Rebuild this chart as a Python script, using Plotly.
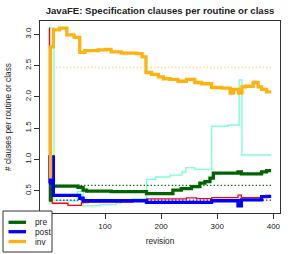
import plotly.graph_objects as go

# ---- data ----
pre_rev = [0, 3, 52, 61, 67, 111, 174, 221, 236, 254, 269, 278, 287, 293, 337, 343, 379, 388, 396]
pre_val = [0.35, 0.575, 0.555, 0.51, 0.495, 0.485, 0.455, 0.51, 0.535, 0.565, 0.62, 0.645, 0.70, 0.78, 0.80, 0.77, 0.80, 0.82, 0.82]

post_rev = [0, 2, 8, 55, 61, 174, 290, 337, 343, 379, 388, 396]
post_val = [0.62, 1.04, 0.425, 0.38, 0.34, 0.315, 0.34, 0.26, 0.355, 0.405, 0.41, 0.41]

inv_rev = [0, 3, 8, 19, 32, 45, 55, 64, 88, 102, 111, 129, 156, 166, 173, 183, 195, 204, 216, 230,
           245, 260, 272, 290, 308, 323, 329, 338, 344, 350, 364, 373, 379, 388, 396]
inv_val = [0.72, 2.80, 3.07, 3.10, 2.99, 2.95, 2.71, 2.74, 2.75, 2.76, 2.72, 2.70, 2.69, 2.64, 2.39, 2.36,
           2.32, 2.29, 2.28, 2.25, 2.28, 2.23, 2.21, 2.15, 2.14, 2.06, 2.12, 2.06, 2.16, 2.17, 2.23,
           2.16, 2.12, 2.08, 2.08]

red_rev = [0, 1, 4, 6, 34, 58, 70, 150, 174, 245, 263, 290, 337, 343, 379, 396]
red_val = [3.10, 0.35, 0.92, 0.30, 0.265, 0.31, 0.32, 0.34, 0.37, 0.385, 0.375, 0.39, 0.43, 0.39, 0.40, 0.40]

aqua_rev = [0, 2, 9, 51, 61, 91, 120, 129, 150, 174, 190, 216, 237, 244, 260, 290, 320, 339, 344, 396]
aqua_val = [0.30, 3.10, 0.34, 0.485, 0.26, 0.28, 0.30, 0.35, 0.37, 0.68, 0.72, 0.75, 0.80, 0.87, 0.84,
            1.53, 1.55, 2.27, 1.07, 1.07]

mean_rev = [13, 396]
pre_mean = 0.585
post_mean = 0.35
inv_mean = 2.47

legend_names = ["pre", "post", "inv"]
x_ticks = [100, 200, 300, 400]
y_ticks = [0.5, 1.0, 1.5, 2.0, 2.5, 3.0]

GREEN = "#006400"
BLUE = "#0000FF"
ORANGE = "#FFB20F"
RED = "#FF0000"
AQUA = "#7FFFD4"

fig = go.Figure()

# thin series
fig.add_trace(go.Scatter(x=aqua_rev, y=aqua_val, mode="lines", showlegend=False,
                         line=dict(color=AQUA, width=1.4, shape="hv")))
fig.add_trace(go.Scatter(x=red_rev, y=red_val, mode="lines", showlegend=False,
                         line=dict(color=RED, width=1.3, shape="hv")))

# thick series
for rev, val, col in [(pre_rev, pre_val, GREEN), (post_rev, post_val, BLUE), (inv_rev, inv_val, ORANGE)]:
    fig.add_trace(go.Scatter(x=rev, y=val, mode="lines", showlegend=False,
                             line=dict(color=col, width=3.3, shape="hv")))

# dotted mean lines
for m, col in [(pre_mean, GREEN), (post_mean, BLUE), (inv_mean, "#FFD280")]:
    fig.add_trace(go.Scatter(x=mean_rev, y=[m, m], mode="lines", showlegend=False,
                             line=dict(color=col, width=1.3, dash="1.3px,2.2px")))

# custom legend box (paper coordinates, plot area 40..280 x, 21..213 y)
def px2x(px):
    return (px - 40) / 240.0

def py2y(py):
    return (213 - py) / 192.0

fig.add_shape(type="rect", xref="paper", yref="paper", layer="above",
              x0=px2x(3), x1=px2x(52), y0=py2y(211), y1=py2y(252),
              fillcolor="white", line=dict(color="#333333", width=1))
legend_cols = [GREEN, BLUE, ORANGE]
legend_py = [222.3, 231.7, 241.5]
for name, col, ly in zip(legend_names, legend_cols, legend_py):
    fig.add_shape(type="line", xref="paper", yref="paper", layer="above",
                  x0=px2x(8.5), x1=px2x(26), y0=py2y(ly), y1=py2y(ly),
                  line=dict(color=col, width=3.3))
    fig.add_annotation(x=px2x(32.5), y=py2y(ly), xref="paper", yref="paper",
                       text=name, showarrow=False, xanchor="left", yanchor="middle",
                       font=dict(size=8.3, color="#222222"))

axis_common = dict(showline=True, mirror=True, linecolor="#333333", linewidth=1,
                   ticks="outside", ticklen=5, tickcolor="#333333", tickwidth=1,
                   showgrid=False, zeroline=False, automargin=False,
                   tickfont=dict(size=8, color="#222222"))

fig.update_layout(
    width=294, height=254,
    margin=dict(l=40, r=14, t=21, b=41, autoexpand=False),
    paper_bgcolor="white", plot_bgcolor="white",
    font=dict(family="Liberation Sans, Arial, sans-serif", color="#222222"),
    title=dict(text="<b>JavaFE: Specification clauses per routine or class</b>",
               x=0.5, xref="paper", xanchor="center",
               y=1 - 11 / 254, yref="container", yanchor="middle",
               font=dict(size=9.6, color="#222222")),
    xaxis=dict(range=[-15.8, 411.8], tickvals=x_ticks,
               title=dict(text="revision", font=dict(size=8.3), standoff=8),
               **axis_common),
    yaxis=dict(range=[0.144, 3.213], tickvals=y_ticks, tickformat=".1f", tickangle=-90,
               title=dict(text="# clauses per routine or class", font=dict(size=8.3), standoff=10),
               **axis_common),
)

fig.write_html("out.html", config={"displayModeBar": False},
               post_script="document.body.style.margin='0';document.body.style.overflow='hidden';")
